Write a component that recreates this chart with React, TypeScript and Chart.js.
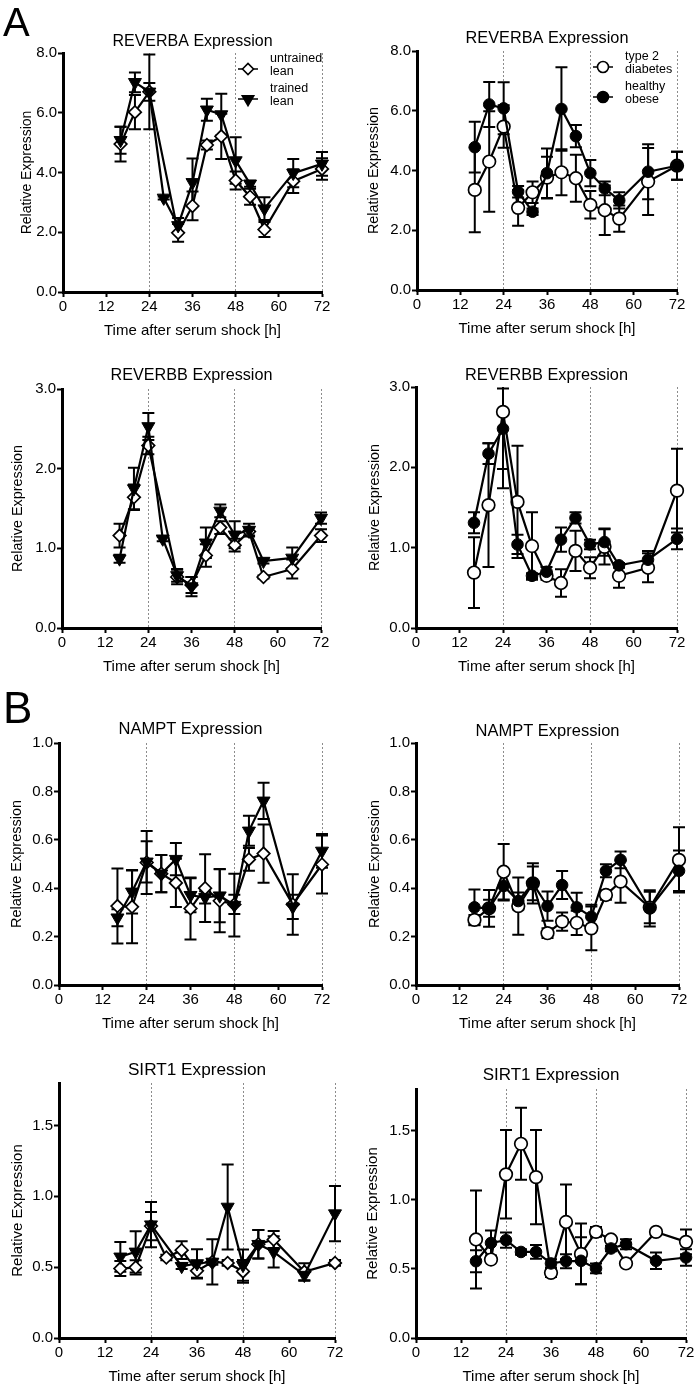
import React, { useEffect, useRef } from "react";
import { Chart, registerables } from "chart.js";

Chart.register(...registerables);

const FONT = "'Liberation Sans', Arial, Helvetica, sans-serif";
Chart.defaults.font.family = FONT;
Chart.defaults.color = "#000";

// ---------------- DATA ----------------
const hours = [16, 20, 24, 28, 32, 36, 40, 44, 48, 52, 56, 64, 72];
const xTickValues = [0, 12, 24, 36, 48, 60, 72];
const dottedHours = [24, 48, 72];

const xAxisTitle = "Time after serum shock [h]";
const yAxisTitle = "Relative Expression";

const untrainedLegend = ["untrained", "lean"];
const trainedLegend = ["trained", "lean"];
const t2dLegend = ["type 2", "diabetes"];
const obeseLegend = ["healthy", "obese"];

const reverbaTicks = [0, 2, 4, 6, 8];
const reverbbTicks = [0, 1, 2, 3];
const namptTicks = [0, 0.2, 0.4, 0.6, 0.8, 1.0];
const sirt1Ticks = [0, 0.5, 1.0, 1.5];

// REVERBA – lean
const reverbaUntrained = [4.95, 6.02, 6.7, null, 1.98, 2.88, 4.92, 5.21, 3.73, 3.19, 2.09, 3.71, 4.12];
const reverbaUntrainedErr = [0.58, 0.57, 1.25, null, 0.3, 0.48, 0.15, 0.76, 0.3, 0.27, 0.25, 0.4, 0.36];
const reverbaTrained = [5.08, 7.02, 6.7, 3.15, 2.23, 3.67, 6.1, 5.94, 4.4, 3.62, 2.79, 3.98, 4.29];
const reverbaTrainedErr = [0.45, 0.33, 0.3, 0.05, 0.25, 0.8, 0.37, 0.7, 0.78, 0.1, 0.38, 0.47, 0.4];

// REVERBA – obese
const reverbaT2D = [3.35, 4.3, 5.47, 2.75, 3.27, 3.76, 3.94, 3.74, 2.85, 2.67, 2.39, 3.63, 4.16];
const reverbaT2DErr = [1.42, 1.68, 0.71, 0.6, 0.36, 0.7, 0.77, 0.79, 0.46, 0.83, 0.44, 1.12, 0.47];
const reverbaHealthy = [4.78, 6.21, 6.08, 3.29, 2.62, 3.91, 6.06, 5.15, 3.91, 3.4, 3.0, 3.96, 4.16];
const reverbaHealthyErr = [0.85, 0.75, 0.87, 0.19, 0.11, 0.83, 1.4, 0.37, 0.44, 0.23, 0.27, 0.92, 0.47];

// REVERBB – lean
const reverbbUntrained = [1.16, 1.64, 2.29, null, 0.64, 0.54, 0.91, 1.26, 1.04, 1.21, 0.64, 0.74, 1.16];
const reverbbUntrainedErr = [0.15, 0.16, 0.11, null, 0.09, 0.1, 0.14, 0.08, 0.08, 0.05, 0.02, 0.12, 0.08];
const reverbbTrained = [0.87, 1.75, 2.53, 1.12, 0.66, 0.52, 1.07, 1.47, 1.17, 1.23, 0.84, 0.88, 1.38];
const reverbbTrainedErr = [0.05, 0.26, 0.17, 0.03, 0.08, 0.12, 0.19, 0.08, 0.17, 0.08, 0.03, 0.13, 0.07];

// REVERBB – obese
const reverbbT2D = [0.69, 1.53, 2.69, 1.57, 1.02, 0.65, 0.56, 0.96, 0.75, 1.01, 0.65, 0.75, 1.71];
const reverbbT2DErr = [0.44, 0.77, 0.95, 0.7, 0.42, 0.05, 0.17, 0.25, 0.13, 0.22, 0.15, 0.18, 0.52];
const reverbbHealthy = [1.31, 2.17, 2.48, 1.04, 0.65, 0.7, 1.1, 1.37, 1.04, 1.07, 0.78, 0.85, 1.11];
const reverbbHealthyErr = [0.13, 0.13, 0.5, 0.12, 0.03, 0.06, 0.15, 0.07, 0.06, 0.17, 0.03, 0.11, 0.13];

// NAMPT – lean
const namptUntrained = [0.326, 0.323, 0.506, 0.46, 0.422, 0.316, 0.4, 0.348, 0.333, 0.519, 0.543, 0.333, 0.498];
const namptUntrainedErr = [0.155, 0.15, 0.13, 0.077, 0.1, 0.128, 0.14, 0.13, 0.04, 0.047, 0.12, 0.125, 0.12];
const namptTrained = [0.278, 0.385, 0.509, 0.46, 0.52, 0.371, 0.362, 0.369, 0.33, 0.637, 0.761, 0.323, 0.554];
const namptTrainedErr = [0.035, 0.09, 0.085, 0.077, 0.067, 0.07, 0.025, 0.11, 0.13, 0.062, 0.075, 0.05, 0.07];

// NAMPT – obese
const namptT2D = [0.269, 0.317, 0.468, 0.326, 0.42, 0.214, 0.262, 0.257, 0.234, 0.372, 0.427, 0.32, 0.517];
const namptT2DErr = [0.02, 0.035, 0.115, 0.118, 0.07, 0.02, 0.038, 0.05, 0.09, 0.02, 0.087, 0.065, 0.135];
const namptHealthy = [0.321, 0.317, 0.409, 0.347, 0.42, 0.326, 0.413, 0.321, 0.282, 0.472, 0.517, 0.317, 0.472];
const namptHealthyErr = [0.074, 0.076, 0.06, 0.035, 0.083, 0.06, 0.058, 0.06, 0.05, 0.027, 0.035, 0.075, 0.084];

// SIRT1 – lean
const sirt1Untrained = [0.49, 0.498, 0.79, 0.568, 0.62, 0.474, 0.537, 0.53, 0.47, 0.662, 0.695, 0.467, 0.53];
const sirt1UntrainedErr = [0.053, 0.05, 0.1, 0.02, 0.063, 0.054, 0.02, 0.02, 0.08, 0.1, 0.06, 0.06, 0.02];
const sirt1Trained = [0.573, 0.608, 0.8, null, 0.507, 0.526, 0.537, 0.925, 0.514, 0.662, 0.608, 0.444, 0.878];
const sirt1TrainedErr = [0.105, 0.145, 0.16, null, 0.02, 0.1, 0.16, 0.3, 0.11, 0.1, 0.11, 0.04, 0.195];

// SIRT1 – obese
const sirt1T2D = [0.712, 0.567, 1.183, 1.404, 1.163, 0.471, 0.839, 0.608, 0.767, 0.712, 0.539, 0.767, 0.695];
const sirt1T2DErr = [0.355, 0.02, 0.32, 0.26, 0.34, 0.03, 0.27, 0.22, 0.035, 0.02, 0.02, 0.02, 0.09];
const sirt1Healthy = [0.555, 0.687, 0.707, 0.622, 0.622, 0.539, 0.555, 0.558, 0.503, 0.647, 0.678, 0.558, 0.582];
const sirt1HealthyErr = [0.08, 0.09, 0.055, 0.02, 0.05, 0.03, 0.05, 0.17, 0.035, 0.02, 0.036, 0.06, 0.06];

// ---------------- TYPES / LAYOUT ----------------
type Marker = "diamond" | "triangleDown" | "openCircle" | "filledCircle";
interface SeriesDef {
  name: string;
  legend: string[];
  marker: Marker;
  values: (number | null)[];
  errors: (number | null)[];
}
interface Geo {
  left: number;
  top?: number;
  chart: [number, number, number, number]; // left, right, top, bottom of plot area (page px)
  titleY: number;
  titleSize: number;
  yTitleX: number;
  yTitleSize: number;
}
interface PanelDef {
  title: string;
  yMax: number;
  yTicks: number[];
  series: SeriesDef[];
  showLegend: boolean;
  geo: Geo;
}

const RIGHT_PAD = 12;
const X_AXIS_H = 50;

const leanSeries = (u: (number | null)[], ue: (number | null)[], t: (number | null)[], te: (number | null)[]): SeriesDef[] => [
  { name: "untrained lean", legend: untrainedLegend, marker: "diamond", values: u, errors: ue },
  { name: "trained lean", legend: trainedLegend, marker: "triangleDown", values: t, errors: te },
];
const obeseSeries = (a: (number | null)[], ae: (number | null)[], b: (number | null)[], be: (number | null)[]): SeriesDef[] => [
  { name: "type 2 diabetes", legend: t2dLegend, marker: "openCircle", values: a, errors: ae },
  { name: "healthy obese", legend: obeseLegend, marker: "filledCircle", values: b, errors: be },
];

const PANELS: PanelDef[] = [
  {
    title: "REVERBA Expression", yMax: 8, yTicks: reverbaTicks, showLegend: true,
    series: leanSeries(reverbaUntrained, reverbaUntrainedErr, reverbaTrained, reverbaTrainedErr),
    geo: { left: 0, top: 0, chart: [63, 322, 53, 292], titleY: 42, titleSize: 16, yTitleX: 27, yTitleSize: 14 },
  },
  {
    title: "REVERBA Expression", yMax: 8, yTicks: reverbaTicks, showLegend: true,
    series: obeseSeries(reverbaT2D, reverbaT2DErr, reverbaHealthy, reverbaHealthyErr),
    geo: { left: 348, top: 0, chart: [417, 677, 51, 290], titleY: 39, titleSize: 16.3, yTitleX: 374, yTitleSize: 14.4 },
  },
  {
    title: "REVERBB Expression", yMax: 3, yTicks: reverbbTicks, showLegend: false,
    series: leanSeries(reverbbUntrained, reverbbUntrainedErr, reverbbTrained, reverbbTrainedErr),
    geo: { left: 0, chart: [62, 321, 389, 628], titleY: 376, titleSize: 16.2, yTitleX: 18, yTitleSize: 14.4 },
  },
  {
    title: "REVERBB Expression", yMax: 3, yTicks: reverbbTicks, showLegend: false,
    series: obeseSeries(reverbbT2D, reverbbT2DErr, reverbbHealthy, reverbbHealthyErr),
    geo: { left: 348, chart: [416, 677, 387, 628], titleY: 376, titleSize: 16.3, yTitleX: 375, yTitleSize: 14.4 },
  },
  {
    title: "NAMPT Expression", yMax: 1, yTicks: namptTicks, showLegend: false,
    series: leanSeries(namptUntrained, namptUntrainedErr, namptTrained, namptTrainedErr),
    geo: { left: 0, chart: [59, 322, 743, 985], titleY: 729, titleSize: 16.5, yTitleX: 17, yTitleSize: 14.5 },
  },
  {
    title: "NAMPT Expression", yMax: 1, yTicks: namptTicks, showLegend: false,
    series: obeseSeries(namptT2D, namptT2DErr, namptHealthy, namptHealthyErr),
    geo: { left: 348, chart: [416, 679, 743, 985], titleY: 731, titleSize: 16.5, yTitleX: 375, yTitleSize: 14.5 },
  },
  {
    title: "SIRT1 Expression", yMax: 1.8, yTicks: sirt1Ticks, showLegend: false,
    series: leanSeries(sirt1Untrained, sirt1UntrainedErr, sirt1Trained, sirt1TrainedErr),
    geo: { left: 0, chart: [59, 335, 1083, 1338], titleY: 1070, titleSize: 17.2, yTitleX: 18, yTitleSize: 15 },
  },
  {
    title: "SIRT1 Expression", yMax: 1.8, yTicks: sirt1Ticks, showLegend: false,
    series: obeseSeries(sirt1T2D, sirt1T2DErr, sirt1Healthy, sirt1HealthyErr),
    geo: { left: 348, chart: [416, 686, 1089, 1338], titleY: 1075, titleSize: 17, yTitleX: 373, yTitleSize: 15 },
  },
];

// ---------------- STYLE HELPERS ----------------
function markerStyle(m: Marker): any {
  switch (m) {
    case "diamond":
      return { pointStyle: "rectRot", pointRadius: 6.3, pointRotation: 0, pointBackgroundColor: "#fff", pointBorderWidth: 1.7 };
    case "triangleDown":
      return { pointStyle: "triangle", pointRadius: 7.5, pointRotation: 180, pointBackgroundColor: "#000", pointBorderWidth: 1 };
    case "openCircle":
      return { pointStyle: "circle", pointRadius: 6.3, pointRotation: 0, pointBackgroundColor: "#fff", pointBorderWidth: 1.7 };
    case "filledCircle":
    default:
      return { pointStyle: "circle", pointRadius: 5.8, pointRotation: 0, pointBackgroundColor: "#000", pointBorderWidth: 1 };
  }
}

function drawMarker(ctx: CanvasRenderingContext2D, m: Marker, x: number, y: number, r: number) {
  ctx.beginPath();
  if (m === "diamond") {
    ctx.moveTo(x - r, y);
    ctx.lineTo(x, y - r);
    ctx.lineTo(x + r, y);
    ctx.lineTo(x, y + r);
    ctx.closePath();
  } else if (m === "triangleDown") {
    const rr = r * 1.2;
    for (let k = 0; k < 3; k++) {
      const a = Math.PI + (k * 2 * Math.PI) / 3;
      const px = x + Math.sin(a) * rr;
      const py = y - Math.cos(a) * rr;
      if (k === 0) ctx.moveTo(px, py);
      else ctx.lineTo(px, py);
    }
    ctx.closePath();
  } else {
    ctx.arc(x, y, r, 0, Math.PI * 2);
  }
  const filled = m === "triangleDown" || m === "filledCircle";
  ctx.fillStyle = filled ? "#000" : "#fff";
  ctx.fill();
  ctx.lineWidth = 1.6;
  ctx.strokeStyle = "#000";
  ctx.stroke();
}

const errorBarPlugin = {
  id: "errorBars",
  beforeDatasetsDraw(chart: any) {
    const { ctx, chartArea } = chart;
    const ys = chart.scales.y;
    const cap = 6;
    ctx.save();
    ctx.beginPath();
    ctx.rect(chartArea.left - 20, chartArea.top, chartArea.right - chartArea.left + 40, chartArea.bottom - chartArea.top);
    ctx.clip();
    ctx.strokeStyle = "#000";
    ctx.lineWidth = 2;
    chart.data.datasets.forEach((ds: any, di: number) => {
      const meta = chart.getDatasetMeta(di);
      meta.data.forEach((pt: any, i: number) => {
        const raw = ds.data[i];
        if (!raw || raw.err == null || raw.y == null) return;
        const x = pt.x;
        const yTop = ys.getPixelForValue(raw.y + raw.err);
        const yBot = ys.getPixelForValue(raw.y - raw.err);
        ctx.beginPath();
        ctx.moveTo(x, yTop);
        ctx.lineTo(x, yBot);
        ctx.moveTo(x - cap, yTop);
        ctx.lineTo(x + cap, yTop);
        ctx.moveTo(x - cap, yBot);
        ctx.lineTo(x + cap, yBot);
        ctx.stroke();
      });
    });
    ctx.restore();
  },
};

function makeKeyPlugin(panel: PanelDef) {
  return {
    id: "seriesKey",
    afterDraw(chart: any) {
      if (!panel.showLegend) return;
      const { ctx, chartArea } = chart;
      ctx.save();
      ctx.font = `12.5px ${FONT}`;
      ctx.textBaseline = "middle";
      ctx.textAlign = "left";
      panel.series.forEach((s, i) => {
        const line1 = chartArea.top + 6 + i * 30;
        const symX = chartArea.right - 74;
        const symY = line1 + 10;
        const textX = chartArea.right - 52;
        ctx.strokeStyle = "#000";
        ctx.lineWidth = 1.5;
        ctx.beginPath();
        ctx.moveTo(symX - 10, symY);
        ctx.lineTo(symX + 10, symY);
        ctx.stroke();
        drawMarker(ctx, s.marker, symX, symY, 5.5);
        ctx.fillStyle = "#000";
        s.legend.forEach((t, k) => ctx.fillText(t, textX, line1 + k * 13));
      });
      ctx.restore();
    },
  };
}

// ---------------- COMPONENTS ----------------
function PanelChart({ panel }: { panel: PanelDef }) {
  const ref = useRef<HTMLCanvasElement>(null);
  const g = panel.geo;
  const [cl, cr, ct, cb] = g.chart;
  const canvasTop = g.top !== undefined ? g.top : g.titleY - 22;
  const width = cr + RIGHT_PAD - g.left;
  const height = cb + X_AXIS_H - canvasTop;

  useEffect(() => {
    if (!ref.current) return;
    const titleLH = g.titleSize * 1.2;
    const yTitleLH = g.yTitleSize * 1.2;
    const datasets = [...panel.series].reverse().map((s) => ({
      label: s.name,
      data: hours
        .map((h, i) => ({ x: h, y: s.values[i], err: s.errors[i] }))
        .filter((d) => d.y !== null && d.y !== undefined),
      borderColor: "#000",
      borderWidth: 2.2,
      pointBorderColor: "#000",
      fill: false,
      tension: 0,
      clip: false,
      ...markerStyle(s.marker),
    }));

    const chart = new Chart(ref.current, {
      type: "line",
      data: { datasets } as any,
      plugins: [errorBarPlugin, makeKeyPlugin(panel)],
      options: {
        responsive: false,
        animation: false,
        events: [],
        layout: { padding: { left: 0, right: RIGHT_PAD, top: 0, bottom: 0 } },
        plugins: {
          legend: { display: false },
          tooltip: { enabled: false },
          title: {
            display: true,
            text: panel.title,
            color: "#000",
            fullSize: false,
            font: { family: FONT, size: g.titleSize, weight: "normal", lineHeight: 1.2 },
            padding: { top: g.titleY - canvasTop - titleLH / 2, bottom: Math.max(0, ct - g.titleY - titleLH / 2) },
          },
        },
        scales: {
          x: {
            type: "linear",
            min: 0,
            max: 72,
            afterBuildTicks: (s: any) => {
              s.ticks = xTickValues.map((v) => ({ value: v }));
            },
            afterFit: (s: any) => {
              s.height = X_AXIS_H;
            },
            ticks: { color: "#000", font: { size: 15 }, padding: 1, maxRotation: 0, autoSkip: false },
            grid: {
              drawOnChartArea: true,
              drawTicks: true,
              tickLength: 5,
              tickWidth: 2,
              tickColor: "#000",
              lineWidth: 1,
              color: (c: any) => (c.tick && dottedHours.includes(c.tick.value) ? "#8c8c8c" : "rgba(0,0,0,0)"),
            },
            border: { display: true, color: "#000", width: 3, dash: [2, 2] },
            title: {
              display: true,
              text: xAxisTitle,
              color: "#000",
              font: { size: 15, lineHeight: 1.2 },
              padding: { top: 0, bottom: 2 },
            },
          },
          y: {
            type: "linear",
            min: 0,
            max: panel.yMax,
            afterBuildTicks: (s: any) => {
              s.ticks = panel.yTicks.map((v) => ({ value: v }));
            },
            afterFit: (s: any) => {
              s.width = cl - g.left;
            },
            ticks: {
              color: "#000",
              font: { size: 15 },
              padding: 1,
              callback: (v: any) => Number(v).toFixed(1),
            },
            grid: {
              drawOnChartArea: false,
              drawTicks: true,
              tickLength: 5,
              tickWidth: 2,
              tickColor: "#000",
              color: "rgba(0,0,0,0)",
            },
            border: { display: true, color: "#000", width: 3 },
            title: {
              display: true,
              text: yAxisTitle,
              color: "#000",
              font: { size: g.yTitleSize, lineHeight: 1.2 },
              padding: { top: g.yTitleX - g.left - yTitleLH / 2, bottom: 0 },
            },
          },
        },
      } as any,
    });
    return () => chart.destroy();
  }, []);

  return (
    <canvas
      ref={ref}
      width={width}
      height={height}
      style={{ position: "absolute", left: g.left, top: canvasTop, width, height }}
    />
  );
}

export default function App() {
  return (
    <div
      style={{
        position: "absolute",
        left: 0,
        top: 0,
        width: 697,
        height: 1388,
        overflow: "hidden",
        background: "#fff",
        fontFamily: FONT,
      }}
    >
      {PANELS.map((p, i) => (
        <PanelChart key={i} panel={p} />
      ))}
      <div style={{ position: "absolute", left: 3, top: 2, fontSize: 40, lineHeight: "40px", color: "#000", zIndex: 2 }}>A</div>
      <div style={{ position: "absolute", left: 3, top: 686, fontSize: 44, lineHeight: "44px", color: "#000", zIndex: 2 }}>B</div>
    </div>
  );
}
